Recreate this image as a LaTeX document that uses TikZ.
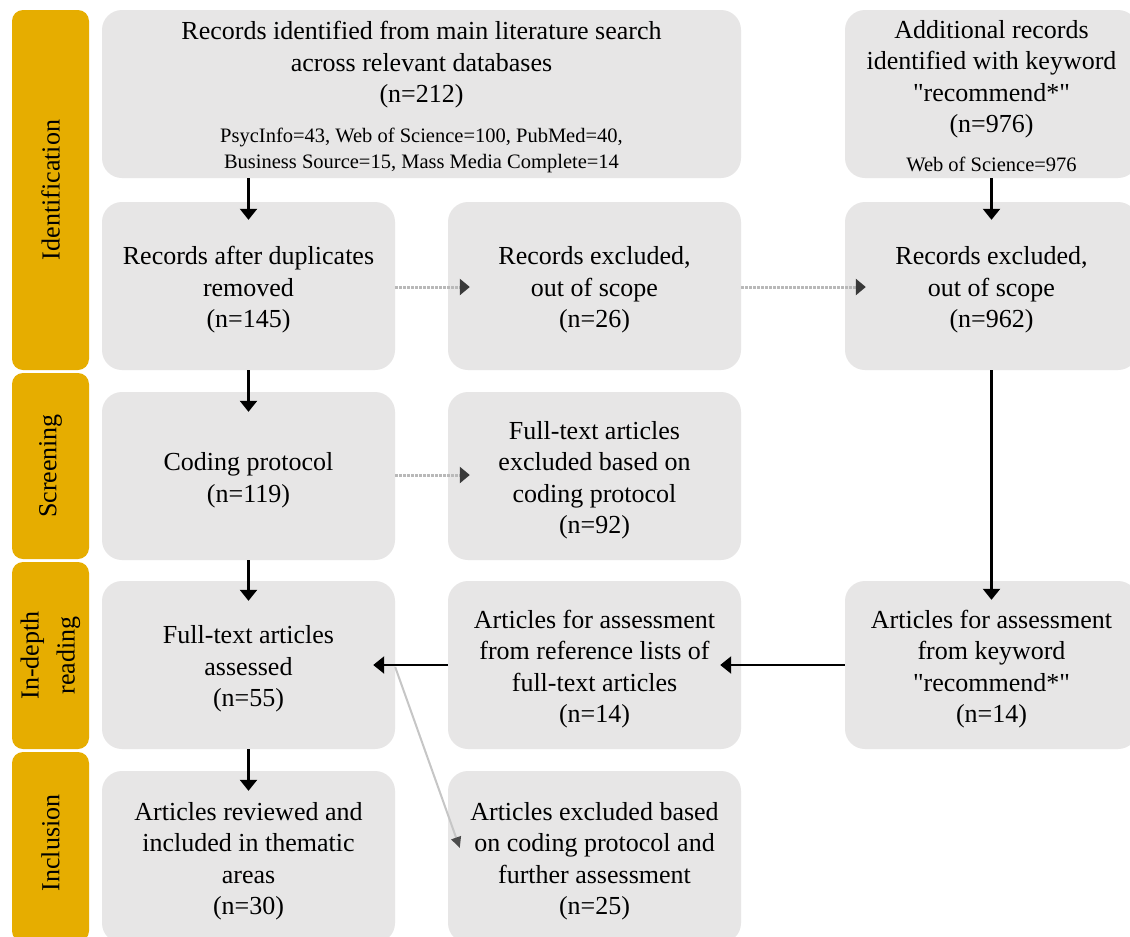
\documentclass[tikz,border=0pt]{standalone}
\usepackage{fontspec}
\setmainfont{Liberation Serif}
\newfontfamily\tnr{Liberation Serif}
\usetikzlibrary{arrows.meta}
\definecolor{boxgrey}{RGB}{231,230,230}
\definecolor{gold}{RGB}{230,173,0}
\newcommand{\smf}{\fontsize{20.5}{26}\selectfont}
\begin{document}
\begin{tikzpicture}[x=1pt,y=-1pt,
  box/.style={fill=boxgrey, rounded corners=20pt, inner sep=0pt,
    minimum width=293pt, minimum height=168pt},
  txt/.style={align=center, inner sep=0pt, font=\tnr\fontsize{26}{31.5}\selectfont},
  sidebox/.style={fill=gold, rounded corners=11pt, minimum width=77pt, inner sep=0pt},
  sidelabel/.style={rotate=90, align=center, font=\tnr\fontsize{26}{36}\selectfont},
  blk/.style={line width=2.4pt, -{Triangle[width=17pt,length=11pt]}},
  dots/.style={line width=3pt, gray!55, dash pattern=on 3pt off 1pt,
    -{Triangle[width=16pt,length=10pt,color=gray!45!black,fill=gray!45!black]}},
  lgt/.style={line width=2pt, gray!45, -{Triangle[width=10pt,length=11pt,color=gray!60!black,fill=gray!60!black]}}]
\clip (0,0) rectangle (1130,937);
\fill[white] (0,0) rectangle (1130,937);
% sidebar
\node[sidebox, minimum height=360pt] (s1) at (50.5,190) {};
\node[sidebox, minimum height=186pt] (s2) at (50.5,466) {};
\node[sidebox, minimum height=187pt] (s3) at (50.5,655.5) {};
\node[sidebox, minimum height=190pt] (s4) at (50.5,847) {};
\node[sidelabel] (l1) at (s1) {Identification};
\node[sidelabel] (l2) at (s2) {Screening};
\node[sidelabel] (l3) at (s3) {In-depth\\reading};
\node[sidelabel] (l4) at (50.5,843) {Inclusion};
% row 1
\node[box, minimum width=639pt] (b1) at (421.5,94) {};
\node[txt] (b1t) at ([yshift=-3pt]b1) {Records identified from main literature search\\ across relevant databases\\ (n=212)\\[8pt] \smf PsycInfo=43, Web of Science=100, PubMed=40,\\[-5.5pt] \smf Business Source=15, Mass Media Complete=14};
\node[box] (r1) at (991.5,94) {};
\node[txt] (r1t) at ([yshift=-2pt]r1) {Additional records\\ identified with keyword\\ "recommend*"\\ (n=976)\\[7pt] \smf Web of Science=976};
% row 2
\node[box] (a2) at (248.5,286) {};
\node[txt] (a2t) at ([yshift=-4pt]a2) {Records after duplicates\\ removed\\ (n=145)};
\node[box] (b2) at (594.5,286) {};
\node[txt] (b2t) at ([yshift=-4pt]b2) {Records excluded,\\ out of scope\\ (n=26)};
\node[box] (r2) at (991.5,286) {};
\node[txt] (r2t) at ([yshift=-4pt]r2) {Records excluded,\\ out of scope\\ (n=962)};
% row 3
\node[box] (a3) at (248.5,476) {};
\node[txt] (a3t) at ([yshift=-4pt]a3) {Coding protocol\\ (n=119)};
\node[box] (b3) at (594.5,476) {};
\node[txt] (b3t) at ([yshift=-4pt]b3) {Full-text articles\\ excluded based on\\ coding protocol\\ (n=92)};
% row 4
\node[box] (a4) at (248.5,665) {};
\node[txt] (a4t) at ([yshift=-4pt]a4) {Full-text articles\\ assessed\\ (n=55)};
\node[box] (b4) at (594.5,665) {};
\node[txt] (b4t) at ([yshift=-4pt]b4) {Articles for assessment\\ from reference lists of\\ full-text articles\\ (n=14)};
\node[box] (r4) at (991.5,665) {};
\node[txt] (r4t) at ([yshift=-4pt]r4) {Articles for assessment\\ from keyword\\ "recommend*"\\ (n=14)};
% row 5
\node[box, minimum height=172pt] (a5) at (248.5,857) {};
\node[txt] (a5t) at ([yshift=-4pt]a5) {Articles reviewed and\\ included in thematic\\ areas\\ (n=30)};
\node[box, minimum height=172pt] (b5) at (594.5,857) {};
\node[txt] (b5t) at ([yshift=-4pt]b5) {Articles excluded based\\ on coding protocol and\\ further assessment\\ (n=25)};
% arrows
\draw[blk] (b1.south -| a2.north) -- ([yshift=-18pt]a2.north);
\draw[blk] (r1.south) -- ([yshift=-18pt]r2.north);
\draw[blk] (a2.south) -- ([yshift=-20pt]a3.north);
\draw[blk] (a3.south) -- ([yshift=-20pt]a4.north);
\draw[blk] (a4.south) -- ([yshift=-20pt]a5.north);
\draw[blk] (r2.south) -- ([yshift=-19pt]r4.north);
\draw[blk] (r4.west) -- ([xshift=-21pt]b4.east);
\draw[blk] (b4.west) -- ([xshift=-22pt]a4.east);
\draw[dots] ([yshift=-1pt]a2.east) -- ([xshift=22pt,yshift=-1pt]b2.west);
\draw[dots] ([yshift=-1pt]b2.east) -- ([xshift=21pt,yshift=-1pt]r2.west);
\draw[dots] ([yshift=1pt]a3.east) -- ([xshift=22pt,yshift=1pt]b3.west);
\draw[lgt] ([yshift=-2pt]a4.east) -- ([xshift=12pt,yshift=9pt]b5.west);
\end{tikzpicture}
\end{document}
